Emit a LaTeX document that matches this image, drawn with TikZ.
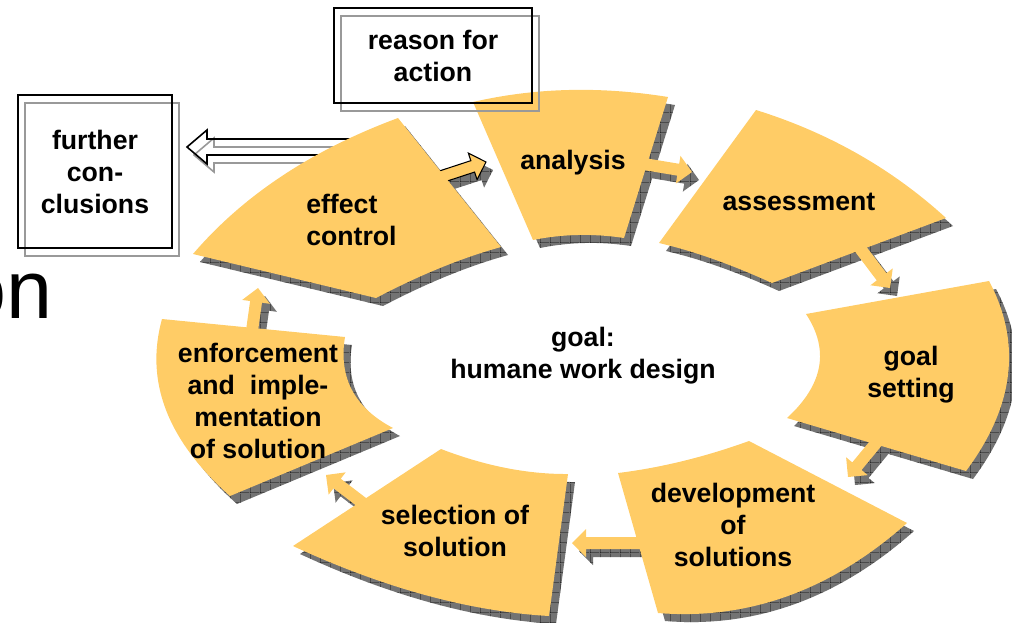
\documentclass[tikz,border=0pt]{standalone}
\usepackage{fontspec}
\setmainfont{Liberation Sans}
\usetikzlibrary{calc,% corners of the block arrows
patterns}%            grid inside the shadows
\definecolor{stepyellow}{HTML}{FFCC66}
\pgfdeclarepatternformonly{shadowgrid}{\pgfpointorigin}{\pgfpoint{7.5pt}{7.5pt}}{\pgfpoint{7.5pt}{7.5pt}}{%
  \pgfsetlinewidth{0.5pt}
  \pgfpathmoveto{\pgfpoint{0pt}{0pt}}\pgfpathlineto{\pgfpoint{7.5pt}{0pt}}
  \pgfpathmoveto{\pgfpoint{0pt}{0pt}}\pgfpathlineto{\pgfpoint{0pt}{7.5pt}}
  \pgfusepath{stroke}}
\tikzset{every node/.style={font=\bfseries\fontsize{20}{24}\selectfont,inner sep=0pt,align=center}}
\tikzset{
  shadowfill/.style={fill=black!55,transform canvas={shift={(7,8)}},
    postaction={pattern=shadowgrid,pattern color=black}},
  infobox/.style={draw,line width=1.5pt,
    preaction={draw=black!40,line width=1.5pt,transform canvas={shift={(7,8)}}}}
}

% block arrow: tail, tip, half shaft, half head, head length
\newcommand{\blockarrow}[5]{%
  ($(#1)!#3!90:(#2)$) -- ($(#2)!#5!(#1)!#3!90:(#2)$)
  -- ($(#2)!#5!(#1)!#4!90:(#2)$) -- (#2)
  -- ($(#2)!#5!(#1)!#4!-90:(#2)$) -- ($(#2)!#5!(#1)!#3!-90:(#2)$)
  -- ($(#1)!#3!-90:(#2)$) -- cycle}
\newcommand{\stepflow}[2]{\blockarrow{#1}{#2}{4.5pt}{10.5pt}{10.5pt}}

% the seven pieces of the ring
\newcommand{\effectpath}{(193,254) .. controls (243.3,195.3) and (311.7,150) .. (398,118)
  -- (501,247) .. controls (461.3,258) and (419.7,275) .. (376,298) -- cycle}
\newcommand{\analysispath}{(473,102) .. controls (534.7,87.7) and (599.7,86) .. (668,97)
  -- (624,238) .. controls (593,233.3) and (562.7,234) .. (533,240) -- cycle}
\newcommand{\assesspath}{(659,243) -- (756,110) .. controls (828.7,132.7) and (892,168.7) .. (946,218)
  -- (772,283) .. controls (731,264.3) and (693.3,251) .. (659,243) -- cycle}
\newcommand{\goalpath}{(806,314) -- (989,281) .. controls (1022,343) and (1014.3,406.3) .. (966,471)
  -- (787,418) .. controls (823.3,384.7) and (829.7,350) .. (806,314) -- cycle}
\newcommand{\developpath}{(618,473) .. controls (661,467.7) and (704.7,457) .. (749,441)
  -- (907,523) .. controls (831.3,590.3) and (748.3,620.3) .. (658,613) -- cycle}
\newcommand{\selectpath}{(441,449) .. controls (485.3,466) and (527.7,474.3) .. (568,474)
  -- (549,616) .. controls (469,611.3) and (383.7,588) .. (293,546) -- cycle}
\newcommand{\enforcepath}{(162,319) -- (345,337) .. controls (338.3,377.3) and (354.3,407.7) .. (393,428)
  -- (230,496) .. controls (167.3,440.3) and (144.7,381.3) .. (162,319) -- cycle}

\begin{document}
\begin{tikzpicture}[x=0.75pt,y=-0.75pt]
\useasboundingbox (0,0) rectangle (1012,622);

% ends of the arrows
\coordinate (effect-out)   at (425,182);
\coordinate (analysis-in)  at (486,162);
\coordinate (analysis-out) at (620,160);
\coordinate (assess-in)    at (692,172);
\coordinate (assess-out)   at (850,235);
\coordinate (goal-in)      at (890,288);
\coordinate (goal-out)     at (895,420);
\coordinate (develop-in)   at (848,477);
\coordinate (develop-out)  at (640,543);
\coordinate (select-in)    at (572,543);
\coordinate (select-out)   at (385,520);
\coordinate (enforce-in)   at (326,475);
\coordinate (enforce-out)  at (250,345);
\coordinate (effect-in)    at (258,288);
\coordinate (effect-back)  at (400,147);
\coordinate (further-in)   at (187,147);

% hollow arrow to the further conclusions
\draw[black!40,line width=1.2pt,transform canvas={shift={(7,8)}}]
  \blockarrow{effect-back}{further-in}{6pt}{12.75pt}{15pt};
\draw[line width=1.2pt] \blockarrow{effect-back}{further-in}{6pt}{12.75pt}{15pt};

% shadows
\fill[shadowfill] \effectpath;
\fill[shadowfill] \analysispath;
\fill[shadowfill] \assesspath;
\fill[shadowfill] \goalpath;
\fill[shadowfill] \developpath;
\fill[shadowfill] \selectpath;
\fill[shadowfill] \enforcepath;
\fill[shadowfill] \stepflow{effect-out}{analysis-in};
\fill[shadowfill] \stepflow{analysis-out}{assess-in};
\fill[shadowfill] \stepflow{assess-out}{goal-in};
\fill[shadowfill] \stepflow{goal-out}{develop-in};
\fill[shadowfill] \stepflow{develop-out}{select-in};
\fill[shadowfill] \stepflow{select-out}{enforce-in};
\fill[shadowfill] \stepflow{enforce-out}{effect-in};

% arrows
\filldraw[fill=stepyellow,draw=black,line width=0.8pt] \stepflow{effect-out}{analysis-in};
\begin{scope}[stepyellow]
\fill \stepflow{analysis-out}{assess-in};
\fill \stepflow{assess-out}{goal-in};
\fill \stepflow{goal-out}{develop-in};
\fill \stepflow{develop-out}{select-in};
\fill \stepflow{select-out}{enforce-in};
\fill \stepflow{enforce-out}{effect-in};

% ring
\fill \effectpath;
\fill \analysispath;
\fill \assesspath;
\fill \goalpath;
\fill \developpath;
\fill \selectpath;
\fill \enforcepath;
\end{scope}

\node[infobox,minimum width=148.5pt,minimum height=71.25pt] (reason) at (433,55.5) {reason for\\action};
\node[infobox,minimum width=115.5pt,minimum height=114.75pt] (further) at (95,171.5) {further\\con-\\clusions};

\node (effect) [align=left,anchor=west] at (306,220) {effect\\control};
\node (analysis) at (573,163) {analysis};
\node (assess) at (799,202) {assessment};
\node (goal) at (911,375) {goal\\setting};
\node (develop) at (733,525) {development\\of\\solutions};
\node (select) at (455,531) {selection of\\solution};
\node (enforce) at (258,401) {enforcement\\and~~imple-\\mentation\\of solution};
\node (target) at (583,356) {goal:\\humane work design};

\node[font=\fontsize{62}{62}\selectfont,anchor=base east] (title-end) at (53,318) {on};
\end{tikzpicture}
\end{document}
